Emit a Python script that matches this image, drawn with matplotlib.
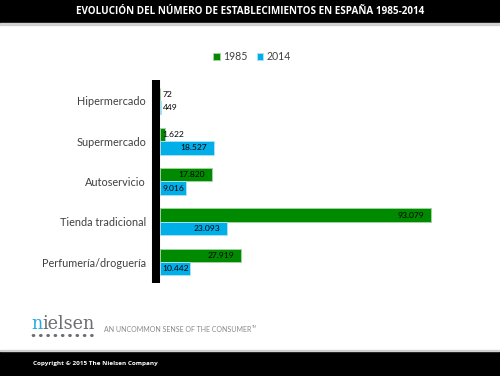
import matplotlib
matplotlib.use("Agg")
import matplotlib.pyplot as plt
import numpy as np

categories = ["Hipermercado", "Supermercado", "Autoservicio", "Tienda tradicional", "Perfumería/droguería"]
values_1985 = [72, 1622, 17820, 93079, 27919]
values_2014 = [449, 18527, 9016, 23093, 10442]
labels_1985 = ["72", "1.622", "17.820", "93.079", "27.919"]
labels_2014 = ["449", "18.527", "9.016", "23.093", "10.442"]
series = ["1985", "2014"]
title = "EVOLUCIÓN DEL NÚMERO DE ESTABLECIMIENTOS EN ESPAÑA 1985-2014"

GREEN = "#008a00"
BLUE = "#00aee8"
W, H = 500, 376

plt.rcParams['font.family'] = ['Lato', 'DejaVu Sans']
fig = plt.figure(figsize=(5, 3.76), dpi=100)
renderer = fig.canvas.get_renderer()

def fx(px):
    return px / W

def fy(py):
    return 1 - py / H

# title bar
fig.patches.append(plt.Rectangle((0, fy(23)), 1, 23 / H, transform=fig.transFigure, color="black", zorder=0))
fig.patches.append(plt.Rectangle((0, fy(25)), 1, 2 / H, transform=fig.transFigure, color="#d0d0d0", zorder=0))
fig.text(0.5, fy(12), title, color="white", fontsize=7.1, fontweight="bold", family="Open Sans",
         ha="center", va="center")

# footer bar
fig.patches.append(plt.Rectangle((0, 0), 1, 25 / H, transform=fig.transFigure, color="black", zorder=0))
fig.patches.append(plt.Rectangle((0, 25 / H), 1, 1.5 / H, transform=fig.transFigure, color="#d0d0d0", zorder=0))
fig.text(fx(33), fy(364), "Copyright © 2015 The Nielsen Company", color="white", fontsize=4.6,
         fontweight="bold", family="Open Sans", ha="left", va="center")

# nielsen logo
t_n = fig.text(fx(31), fy(329), "n", color="#29abe2", fontsize=12.7, family="DejaVu Serif",
               ha="left", va="baseline")
bb = t_n.get_window_extent(renderer)
fig.text(bb.x1 / W, fy(329), "ielsen", color="#6d6e71", fontsize=12.7, family="DejaVu Serif",
         ha="left", va="baseline")
for i in range(9):
    fig.patches.append(plt.Circle((fx(33.5 + i * 7.3), fy(335.5)), 0.0022, transform=fig.transFigure,
                                  color="#6d6e71", zorder=1))
tag = fig.text(fx(104), fy(329), "AN UNCOMMON SENSE OF THE CONSUMER", color="#8a8a8a", fontsize=5.0,
               ha="left", va="center")
tb = tag.get_window_extent(renderer)
fig.text(tb.x1 / W + 0.002, fy(327), "TM", color="#8a8a8a", fontsize=2.4, ha="left", va="center")

# chart axes
ax = fig.add_axes([fx(160), fy(283), fx(450) - fx(160), (283 - 80) / H])
y = np.arange(len(categories))
h = 0.333
ax.barh(y - h / 2, values_1985, height=h, color=GREEN, edgecolor="#9fd49f", linewidth=0.7, label=series[0])
ax.barh(y + h / 2, values_2014, height=h, color=BLUE, edgecolor="#a8e2f5", linewidth=0.7, label=series[1])
ax.set_xlim(0, 99500)
ax.set_ylim(4.52, -0.52)
ax.tick_params(axis="y", length=0, pad=7, labelsize=7.8, labelcolor="#404040")
ax.set_yticks(y)
ax.set_yticklabels(categories, fontsize=7.8, color="#404040")
ax.set_xticks([])
for s in ["top", "right", "bottom"]:
    ax.spines[s].set_visible(False)
ax.spines["left"].set_linewidth(5.8)
ax.spines["left"].set_color("black")
ax.spines["left"].set_capstyle("butt")
ax.spines["left"].set_position(("outward", 3))

for vals, labs, off in [(values_1985, labels_1985, -h / 2), (values_2014, labels_2014, h / 2)]:
    for i, (v, l) in enumerate(zip(vals, labs)):
        if v < 12000:
            ax.annotate(l, (0, i + off), xytext=(2, 0), textcoords="offset points",
                        fontsize=6.1, ha="left", va="center", color="black")
        else:
            ax.annotate(l, (v, i + off), xytext=(-5, 0), textcoords="offset points",
                        fontsize=6.1, ha="right", va="center", color="black")

leg = fig.legend(loc="center", bbox_to_anchor=(fx(252), fy(57)), ncol=2, frameon=False, fontsize=7.6,
                 handlelength=0.6, handleheight=0.6, handletextpad=0.3, columnspacing=0.9)
for t in leg.get_texts():
    t.set_color("#404040")

fig.savefig("out.png", dpi=100)
